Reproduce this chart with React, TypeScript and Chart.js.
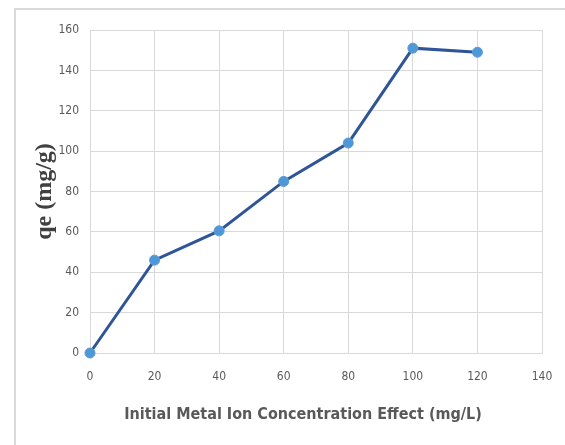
import React, { useEffect, useRef } from "react";
import { Chart, registerables } from "chart.js";

Chart.register(...registerables);

const concentrations = [0, 20, 40, 60, 80, 100, 120];
const qeValues = [0, 46, 60.5, 85, 104, 151, 149];
const xTitle = "Initial Metal Ion Concentration Effect (mg/L)";
const yTitle = "qe (mg/g)";

const framePlugin = {
  id: "frame",
  beforeDraw(chart: any) {
    const ctx = chart.ctx;
    ctx.save();
    ctx.fillStyle = "#ffffff";
    ctx.fillRect(0, 0, chart.width, chart.height);
    ctx.strokeStyle = "#d9d9d9";
    ctx.lineWidth = 2;
    ctx.strokeRect(15, 9, 700, 600);
    ctx.restore();
  },
  afterDraw(chart: any) {
    const ctx = chart.ctx;
    ctx.save();
    ctx.fillStyle = "#595959";
    ctx.font = "bold 16px 'DejaVu Sans Condensed', 'DejaVu Sans', sans-serif";
    ctx.textAlign = "center";
    ctx.textBaseline = "alphabetic";
    ctx.fillText(xTitle, 303, 419);
    ctx.restore();
  },
};

const tickFont = { family: "'DejaVu Sans Condensed', 'DejaVu Sans', sans-serif", size: 12 };

export default function App() {
  const ref = useRef<HTMLCanvasElement>(null);
  useEffect(() => {
    if (!ref.current) return;
    const chart = new Chart(ref.current, {
      type: "line",
      data: {
        datasets: [
          {
            data: concentrations.map((x, i) => ({ x, y: qeValues[i] })),
            borderColor: "#2f5597",
            borderWidth: 3,
            pointBackgroundColor: "#4f98d8",
            pointBorderColor: "#5b9bd5",
            pointBorderWidth: 1,
            pointRadius: 5,
            tension: 0,
            clip: false,
          },
        ],
      },
      options: {
        animation: false,
        responsive: false,
        layout: { padding: { top: 30, right: 23, left: 0, bottom: 0 } },
        plugins: { legend: { display: false }, tooltip: { enabled: false } },
        scales: {
          x: {
            type: "linear",
            min: 0,
            max: 140,
            ticks: { stepSize: 20, padding: 17, color: "#595959", font: tickFont },
            grid: { color: "#d9d9d9", drawTicks: false },
            border: { color: "#d9d9d9" },
            title: { display: false },
            afterFit: (s: any) => {
              s.height = 92;
              s.paddingLeft = 0;
              s.paddingRight = 0;
            },
          },
          y: {
            min: 0,
            max: 160,
            ticks: { stepSize: 20, padding: 11, color: "#595959", font: tickFont },
            grid: { color: "#d9d9d9", drawTicks: false },
            border: { color: "#d9d9d9" },
            title: {
              display: true,
              text: yTitle,
              color: "#404040",
              font: { family: "'Liberation Serif', 'Times New Roman', serif", size: 24, weight: "bold" },
              padding: { top: 30, bottom: 0 },
            },
            afterFit: (s: any) => {
              s.width = 90;
            },
          },
        },
      },
      plugins: [framePlugin],
    } as any);
    return () => chart.destroy();
  }, []);
  return (
    <div style={{ position: "fixed", left: 0, top: 0, width: 565, height: 445 }}>
      <canvas ref={ref} width={565} height={445} style={{ display: "block" }} />
    </div>
  );
}
